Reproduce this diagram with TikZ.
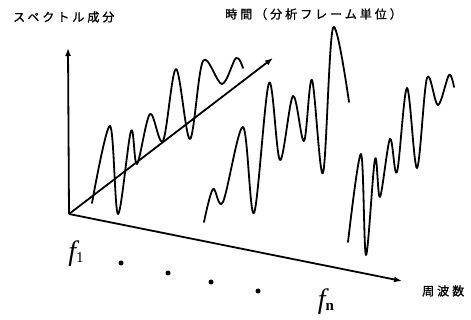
\documentclass[tikz,border=0pt]{standalone}
\usepackage{fontspec}
\newfontfamily\jp[LetterSpace=25,FakeBold=1.2]{Noto Sans CJK JP}
\newfontfamily\fser{Liberation Serif}
\usetikzlibrary{arrows.meta}
\begin{document}
\begin{tikzpicture}[x=1pt,y=-1pt,
  axis/.style={line width=1.8pt,-{Latex[length=8pt,width=6pt]}},
  wave/.style={line width=1.8pt,line join=round,line cap=round},
  jplabel/.style={font=\fontsize{12}{14}\jp,inner sep=0pt,anchor=west},
  flabel/.style={font=\fontsize{28}{28}\fser\itshape,inner sep=0pt},
  dotmark/.style={circle,fill,inner sep=0pt,minimum size=5pt}]
\useasboundingbox (0,0) rectangle (471,320);
% axes
\coordinate (O) at (69,214);
\coordinate (Ytip) at (68,48);
\coordinate (Xtip) at (402,281);
\coordinate (Ttip) at (273,58);
\draw[axis] (O) -- (Ytip);
\draw[axis] (O) -- (Xtip);
\draw[axis] (O) -- (Ttip);
% waves
\draw[wave] plot[smooth,tension=0.55] coordinates {(92,203) (110,126) (118,214) (131,131) (137,164) (150,114) (163,141) (176,69) (190,139) (203,61) (222,84) (236,58) (243,68)};
\draw[wave] plot[smooth,tension=0.55] coordinates {(204,222) (213,189) (223,202) (243,127) (254,213) (269,83) (280,160) (293,96) (304,141) (312,80) (323,173) (333,28) (349,102)};
\draw[wave] plot[smooth,tension=0.55] coordinates {(348,242) (361,154) (366,255) (375,159) (380,197) (390,139) (397,172) (407,88) (417,168) (427,78) (438,105) (449,75) (454,87)};
% labels
\node[jplabel] (ylab) at (13,17) {スペクトル成分};
\node[jplabel] (tlab) at (225,14) {時間（分析フレーム単位）};
\node[jplabel] (xlab) at (422,291) {周波数};
\node[flabel] (f1) at (76,254) {f\raisebox{-2pt}{\fontsize{15}{15}\upshape 1}};
\node[flabel] (fn) at (326,302) {f\raisebox{-2pt}{\fontsize{15}{15}\upshape\bfseries n}};
% dots
\node[dotmark] (d1) at (121,263) {};
\node[dotmark] (d2) at (168,273) {};
\node[dotmark] (d3) at (211,282) {};
\node[dotmark] (d4) at (258,291) {};
\end{tikzpicture}
\end{document}
